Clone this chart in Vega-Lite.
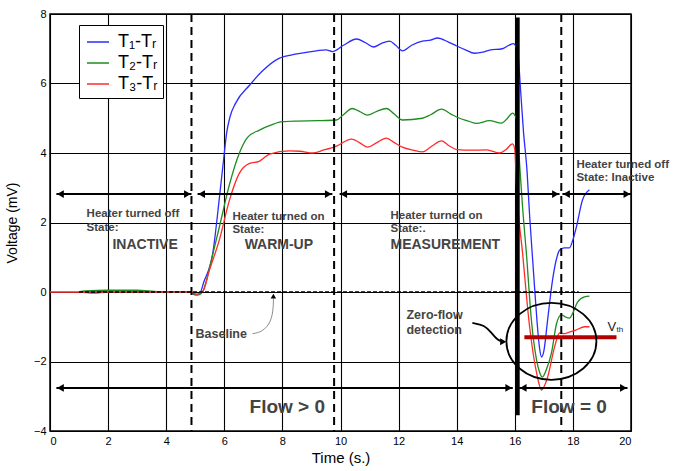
{
  "$schema": "https://vega.github.io/schema/vega-lite/v6.json",
  "width": 581,
  "height": 417,
  "autosize": {"type": "none"},
  "padding": {"left": 50, "top": 14, "right": 55, "bottom": 40},
  "config": {
    "font": "Liberation Sans",
    "view": {"stroke": "black", "strokeWidth": 1.5},
    "axis": {"grid": true, "gridColor": "black", "gridOpacity": 1, "gridWidth": 1.1, "ticks": false, "domain": false, "labelFontSize": 11, "labelColor": "black", "labelFont": "Liberation Sans", "titleFont": "Liberation Sans", "titleFontSize": 15, "titleFontWeight": "normal", "titleColor": "black"}
  },
  "datasets": {
    "curves": [
      {"s": "T₁-Tᵣ", "t": 1.0, "v": 0}, {"s": "T₁-Tᵣ", "t": 1.5, "v": 0.0}, {"s": "T₁-Tᵣ", "t": 2.0, "v": 0.03}, {"s": "T₁-Tᵣ", "t": 2.5, "v": 0.03}, {"s": "T₁-Tᵣ", "t": 3.0, "v": 0.02}, {"s": "T₁-Tᵣ", "t": 3.5, "v": 0}, {"s": "T₁-Tᵣ", "t": 4.0, "v": 0}, {"s": "T₁-Tᵣ", "t": 4.8, "v": 0}, {"s": "T₁-Tᵣ", "t": 5.0, "v": -0.08}, {"s": "T₁-Tᵣ", "t": 5.15, "v": -0.05}, {"s": "T₁-Tᵣ", "t": 5.3, "v": 0.3}, {"s": "T₁-Tᵣ", "t": 5.6, "v": 1.1}, {"s": "T₁-Tᵣ", "t": 5.83, "v": 2.7}, {"s": "T₁-Tᵣ", "t": 6.0, "v": 4.0}, {"s": "T₁-Tᵣ", "t": 6.08, "v": 4.57}, {"s": "T₁-Tᵣ", "t": 6.2, "v": 5.05}, {"s": "T₁-Tᵣ", "t": 6.4, "v": 5.45}, {"s": "T₁-Tᵣ", "t": 6.87, "v": 5.95}, {"s": "T₁-Tᵣ", "t": 7.3, "v": 6.35}, {"s": "T₁-Tᵣ", "t": 7.9, "v": 6.73}, {"s": "T₁-Tᵣ", "t": 8.5, "v": 6.85}, {"s": "T₁-Tᵣ", "t": 9.17, "v": 6.94}, {"s": "T₁-Tᵣ", "t": 9.5, "v": 6.97}, {"s": "T₁-Tᵣ", "t": 9.72, "v": 6.92}, {"s": "T₁-Tᵣ", "t": 10.1, "v": 7.1}, {"s": "T₁-Tᵣ", "t": 10.55, "v": 7.28}, {"s": "T₁-Tᵣ", "t": 10.85, "v": 7.18}, {"s": "T₁-Tᵣ", "t": 11.14, "v": 7.05}, {"s": "T₁-Tᵣ", "t": 11.4, "v": 7.15}, {"s": "T₁-Tᵣ", "t": 11.69, "v": 7.22}, {"s": "T₁-Tᵣ", "t": 11.9, "v": 7.1}, {"s": "T₁-Tᵣ", "t": 12.13, "v": 6.94}, {"s": "T₁-Tᵣ", "t": 12.45, "v": 7.1}, {"s": "T₁-Tᵣ", "t": 12.82, "v": 7.22}, {"s": "T₁-Tᵣ", "t": 13.1, "v": 7.25}, {"s": "T₁-Tᵣ", "t": 13.34, "v": 7.31}, {"s": "T₁-Tᵣ", "t": 13.7, "v": 7.2}, {"s": "T₁-Tᵣ", "t": 14.0, "v": 7.08}, {"s": "T₁-Tᵣ", "t": 14.3, "v": 6.97}, {"s": "T₁-Tᵣ", "t": 14.61, "v": 6.87}, {"s": "T₁-Tᵣ", "t": 14.9, "v": 6.9}, {"s": "T₁-Tᵣ", "t": 15.13, "v": 6.96}, {"s": "T₁-Tᵣ", "t": 15.57, "v": 7.0}, {"s": "T₁-Tᵣ", "t": 15.8, "v": 7.1}, {"s": "T₁-Tᵣ", "t": 15.95, "v": 7.15}, {"s": "T₁-Tᵣ", "t": 16.1, "v": 6.9}, {"s": "T₁-Tᵣ", "t": 16.2, "v": 5.8}, {"s": "T₁-Tᵣ", "t": 16.3, "v": 4.6}, {"s": "T₁-Tᵣ", "t": 16.42, "v": 3.5}, {"s": "T₁-Tᵣ", "t": 16.51, "v": 2.2}, {"s": "T₁-Tᵣ", "t": 16.6, "v": 1.1}, {"s": "T₁-Tᵣ", "t": 16.68, "v": 0.14}, {"s": "T₁-Tᵣ", "t": 16.77, "v": -0.9}, {"s": "T₁-Tᵣ", "t": 16.85, "v": -1.6}, {"s": "T₁-Tᵣ", "t": 16.92, "v": -1.87}, {"s": "T₁-Tᵣ", "t": 17.0, "v": -1.7}, {"s": "T₁-Tᵣ", "t": 17.13, "v": -0.8}, {"s": "T₁-Tᵣ", "t": 17.3, "v": 0.35}, {"s": "T₁-Tᵣ", "t": 17.45, "v": 1.0}, {"s": "T₁-Tᵣ", "t": 17.54, "v": 1.2}, {"s": "T₁-Tᵣ", "t": 17.7, "v": 1.27}, {"s": "T₁-Tᵣ", "t": 17.88, "v": 1.27}, {"s": "T₁-Tᵣ", "t": 18.0, "v": 1.5}, {"s": "T₁-Tᵣ", "t": 18.12, "v": 1.87}, {"s": "T₁-Tᵣ", "t": 18.33, "v": 2.65}, {"s": "T₁-Tᵣ", "t": 18.57, "v": 2.94},
      {"s": "T₂-Tᵣ", "t": 1.0, "v": 0}, {"s": "T₂-Tᵣ", "t": 1.2, "v": 0.03}, {"s": "T₂-Tᵣ", "t": 2.0, "v": 0.05}, {"s": "T₂-Tᵣ", "t": 3.0, "v": 0.05}, {"s": "T₂-Tᵣ", "t": 3.4, "v": 0.03}, {"s": "T₂-Tᵣ", "t": 4.0, "v": 0}, {"s": "T₂-Tᵣ", "t": 4.8, "v": 0}, {"s": "T₂-Tᵣ", "t": 5.08, "v": -0.09}, {"s": "T₂-Tᵣ", "t": 5.25, "v": 0.0}, {"s": "T₂-Tᵣ", "t": 5.39, "v": 0.35}, {"s": "T₂-Tᵣ", "t": 5.55, "v": 0.9}, {"s": "T₂-Tᵣ", "t": 5.83, "v": 1.87}, {"s": "T₂-Tᵣ", "t": 6.18, "v": 3.1}, {"s": "T₂-Tᵣ", "t": 6.52, "v": 4.0}, {"s": "T₂-Tᵣ", "t": 6.8, "v": 4.45}, {"s": "T₂-Tᵣ", "t": 7.21, "v": 4.66}, {"s": "T₂-Tᵣ", "t": 7.6, "v": 4.8}, {"s": "T₂-Tᵣ", "t": 8.0, "v": 4.9}, {"s": "T₂-Tᵣ", "t": 8.5, "v": 4.92}, {"s": "T₂-Tᵣ", "t": 9.2, "v": 4.93}, {"s": "T₂-Tᵣ", "t": 9.86, "v": 4.95}, {"s": "T₂-Tᵣ", "t": 10.1, "v": 5.1}, {"s": "T₂-Tᵣ", "t": 10.4, "v": 5.28}, {"s": "T₂-Tᵣ", "t": 10.65, "v": 5.2}, {"s": "T₂-Tᵣ", "t": 10.93, "v": 5.09}, {"s": "T₂-Tᵣ", "t": 11.25, "v": 5.2}, {"s": "T₂-Tᵣ", "t": 11.58, "v": 5.28}, {"s": "T₂-Tᵣ", "t": 11.85, "v": 5.12}, {"s": "T₂-Tᵣ", "t": 12.13, "v": 4.95}, {"s": "T₂-Tᵣ", "t": 12.82, "v": 5.0}, {"s": "T₂-Tᵣ", "t": 13.1, "v": 5.1}, {"s": "T₂-Tᵣ", "t": 13.48, "v": 5.26}, {"s": "T₂-Tᵣ", "t": 13.8, "v": 5.12}, {"s": "T₂-Tᵣ", "t": 14.1, "v": 5.0}, {"s": "T₂-Tᵣ", "t": 14.4, "v": 4.92}, {"s": "T₂-Tᵣ", "t": 14.68, "v": 4.85}, {"s": "T₂-Tᵣ", "t": 15.13, "v": 4.93}, {"s": "T₂-Tᵣ", "t": 15.54, "v": 4.86}, {"s": "T₂-Tᵣ", "t": 15.75, "v": 5.0}, {"s": "T₂-Tᵣ", "t": 15.92, "v": 5.15}, {"s": "T₂-Tᵣ", "t": 16.05, "v": 5.0}, {"s": "T₂-Tᵣ", "t": 16.18, "v": 3.5}, {"s": "T₂-Tᵣ", "t": 16.28, "v": 2.3}, {"s": "T₂-Tᵣ", "t": 16.4, "v": 1.1}, {"s": "T₂-Tᵣ", "t": 16.57, "v": -0.8}, {"s": "T₂-Tᵣ", "t": 16.75, "v": -1.96}, {"s": "T₂-Tᵣ", "t": 16.85, "v": -2.3}, {"s": "T₂-Tᵣ", "t": 16.95, "v": -2.45}, {"s": "T₂-Tᵣ", "t": 17.1, "v": -2.2}, {"s": "T₂-Tᵣ", "t": 17.26, "v": -1.76}, {"s": "T₂-Tᵣ", "t": 17.44, "v": -0.9}, {"s": "T₂-Tᵣ", "t": 17.6, "v": -0.66}, {"s": "T₂-Tᵣ", "t": 17.75, "v": -0.72}, {"s": "T₂-Tᵣ", "t": 17.88, "v": -0.75}, {"s": "T₂-Tᵣ", "t": 18.0, "v": -0.6}, {"s": "T₂-Tᵣ", "t": 18.16, "v": -0.29}, {"s": "T₂-Tᵣ", "t": 18.4, "v": -0.14}, {"s": "T₂-Tᵣ", "t": 18.57, "v": -0.12},
      {"s": "T₃-Tᵣ", "t": 0.0, "v": 0}, {"s": "T₃-Tᵣ", "t": 1.0, "v": 0}, {"s": "T₃-Tᵣ", "t": 1.5, "v": -0.03}, {"s": "T₃-Tᵣ", "t": 2.0, "v": 0.0}, {"s": "T₃-Tᵣ", "t": 3.0, "v": 0.0}, {"s": "T₃-Tᵣ", "t": 4.0, "v": 0}, {"s": "T₃-Tᵣ", "t": 4.8, "v": 0}, {"s": "T₃-Tᵣ", "t": 5.05, "v": -0.06}, {"s": "T₃-Tᵣ", "t": 5.25, "v": 0.0}, {"s": "T₃-Tᵣ", "t": 5.49, "v": 0.63}, {"s": "T₃-Tᵣ", "t": 5.83, "v": 1.5}, {"s": "T₃-Tᵣ", "t": 6.18, "v": 2.65}, {"s": "T₃-Tᵣ", "t": 6.52, "v": 3.42}, {"s": "T₃-Tᵣ", "t": 6.87, "v": 3.7}, {"s": "T₃-Tᵣ", "t": 7.2, "v": 3.76}, {"s": "T₃-Tᵣ", "t": 7.56, "v": 3.97}, {"s": "T₃-Tᵣ", "t": 8.24, "v": 4.06}, {"s": "T₃-Tᵣ", "t": 8.6, "v": 4.05}, {"s": "T₃-Tᵣ", "t": 9.04, "v": 4.0}, {"s": "T₃-Tᵣ", "t": 9.4, "v": 4.08}, {"s": "T₃-Tᵣ", "t": 9.86, "v": 4.2}, {"s": "T₃-Tᵣ", "t": 10.38, "v": 4.4}, {"s": "T₃-Tᵣ", "t": 10.65, "v": 4.3}, {"s": "T₃-Tᵣ", "t": 10.93, "v": 4.17}, {"s": "T₃-Tᵣ", "t": 11.25, "v": 4.3}, {"s": "T₃-Tᵣ", "t": 11.58, "v": 4.43}, {"s": "T₃-Tᵣ", "t": 11.85, "v": 4.3}, {"s": "T₃-Tᵣ", "t": 12.13, "v": 4.17}, {"s": "T₃-Tᵣ", "t": 12.5, "v": 4.08}, {"s": "T₃-Tᵣ", "t": 12.82, "v": 4.03}, {"s": "T₃-Tᵣ", "t": 13.15, "v": 4.2}, {"s": "T₃-Tᵣ", "t": 13.48, "v": 4.35}, {"s": "T₃-Tᵣ", "t": 13.75, "v": 4.2}, {"s": "T₃-Tᵣ", "t": 14.0, "v": 4.1}, {"s": "T₃-Tᵣ", "t": 14.5, "v": 4.08}, {"s": "T₃-Tᵣ", "t": 15.03, "v": 4.09}, {"s": "T₃-Tᵣ", "t": 15.47, "v": 4.0}, {"s": "T₃-Tᵣ", "t": 15.7, "v": 4.1}, {"s": "T₃-Tᵣ", "t": 15.92, "v": 4.26}, {"s": "T₃-Tᵣ", "t": 16.0, "v": 4.1}, {"s": "T₃-Tᵣ", "t": 16.06, "v": 3.02}, {"s": "T₃-Tᵣ", "t": 16.27, "v": 1.1}, {"s": "T₃-Tᵣ", "t": 16.51, "v": -1.0}, {"s": "T₃-Tᵣ", "t": 16.75, "v": -2.33}, {"s": "T₃-Tᵣ", "t": 16.92, "v": -2.82}, {"s": "T₃-Tᵣ", "t": 17.13, "v": -2.45}, {"s": "T₃-Tᵣ", "t": 17.37, "v": -1.58}, {"s": "T₃-Tᵣ", "t": 17.54, "v": -1.18}, {"s": "T₃-Tᵣ", "t": 17.7, "v": -1.2}, {"s": "T₃-Tᵣ", "t": 17.9, "v": -1.15}, {"s": "T₃-Tᵣ", "t": 18.12, "v": -1.09}, {"s": "T₃-Tᵣ", "t": 18.4, "v": -1.0}, {"s": "T₃-Tᵣ", "t": 18.57, "v": -1.0}
    ],
    "shafts": [
      {"t": 0.22, "t2": 4.87, "v": 2.82}, {"t": 5.08, "t2": 9.72, "v": 2.82}, {"t": 9.97, "t2": 17.54, "v": 2.82}, {"t": 17.64, "t2": 20.0, "v": 2.82},
      {"t": 0.22, "t2": 15.93, "v": -2.76}, {"t": 16.15, "t2": 19.88, "v": -2.76}
    ],
    "heads": [
      {"t": 0.36, "v": 2.82, "dir": "left"}, {"t": 5.22, "v": 2.82, "dir": "left"}, {"t": 10.11, "v": 2.82, "dir": "left"}, {"t": 17.78, "v": 2.82, "dir": "left"},
      {"t": 4.73, "v": 2.82, "dir": "right"}, {"t": 9.58, "v": 2.82, "dir": "right"}, {"t": 17.4, "v": 2.82, "dir": "right"}, {"t": 19.86, "v": 2.82, "dir": "right"},
      {"t": 0.36, "v": -2.76, "dir": "left"}, {"t": 16.29, "v": -2.76, "dir": "left"},
      {"t": 15.79, "v": -2.76, "dir": "right"}, {"t": 19.74, "v": -2.76, "dir": "right"}
    ],
    "small": [
      {"t": 1.26, "v": 2.24, "label": "Heater turned off"}, {"t": 1.26, "v": 1.84, "label": "State:"},
      {"t": 6.28, "v": 2.16, "label": "Heater turned on"}, {"t": 6.28, "v": 1.78, "label": "State:"},
      {"t": 11.72, "v": 2.19, "label": "Heater turned on"}, {"t": 11.72, "v": 1.81, "label": "State:."},
      {"t": 18.12, "v": 3.65, "label": "Heater turned off"}, {"t": 18.12, "v": 3.28, "label": "State: Inactive"}
    ],
    "states": [
      {"t": 2.15, "v": 1.35, "label": "INACTIVE"}, {"t": 6.7, "v": 1.35, "label": "WARM-UP"}, {"t": 11.72, "v": 1.35, "label": "MEASUREMENT"}
    ],
    "flows": [
      {"t": 6.87, "v": -3.31, "label": "Flow > 0"}, {"t": 16.57, "v": -3.31, "label": "Flow = 0"}
    ],
    "notes": [
      {"t": 5.01, "v": -1.21, "label": "Baseline"}, {"t": 12.27, "v": -0.66, "label": "Zero-flow"}, {"t": 12.27, "v": -1.09, "label": "detection"}
    ],
    "baselineArrow": [
      {"o": 1, "t": 6.97, "v": -1.2}, {"o": 2, "t": 7.31, "v": -1.15}, {"o": 3, "t": 7.62, "v": -0.86}, {"o": 4, "t": 7.69, "v": -0.43}, {"o": 5, "t": 7.69, "v": -0.18}
    ],
    "zeroArrow": [
      {"o": 1, "t": 14.54, "v": -0.89}, {"o": 2, "t": 14.96, "v": -0.95}, {"o": 3, "t": 15.2, "v": -1.18}, {"o": 4, "t": 15.37, "v": -1.35}, {"o": 5, "t": 15.5, "v": -1.41}
    ]
  },
  "layer": [
    {
      "data": {"name": "curves"},
      "mark": {"type": "line", "strokeWidth": 1.3, "interpolate": "monotone"},
      "encoding": {
        "x": {"field": "t", "type": "quantitative", "scale": {"domain": [0, 20], "nice": false, "zero": false}, "axis": {"values": [0, 2, 4, 6, 8, 10, 12, 14, 16, 18, 20], "title": "Time (s.)", "labelPadding": 4, "titlePadding": 4}},
        "y": {"field": "v", "type": "quantitative", "scale": {"domain": [-4, 8], "nice": false, "zero": false}, "axis": {"values": [-4, -2, 0, 2, 4, 6, 8], "title": "Voltage (mV)", "labelPadding": 4, "titlePadding": 14, "titleFontSize": 14}},
        "color": {"field": "s", "type": "nominal", "scale": {"domain": ["T₁-Tᵣ", "T₂-Tᵣ", "T₃-Tᵣ"], "range": ["#2b2bff", "#1e8c1e", "#ff2b2b"]},
          "legend": {"orient": "none", "legendX": 29, "legendY": 11, "title": null, "symbolType": "stroke", "symbolSize": 484, "symbolStrokeWidth": 1.5, "labelFontSize": 18, "labelFont": "Liberation Sans", "labelColor": "black", "strokeColor": "black", "fillColor": "white", "padding": 5, "rowPadding": 0, "labelOffset": 8, "symbolOffset": 2}}
      }
    },
    {
      "data": {"values": [{"t": 4.87}, {"t": 9.78}, {"t": 17.6}]},
      "mark": {"type": "rule", "color": "black", "strokeWidth": 2, "strokeDash": [8, 5]},
      "encoding": {"x": {"field": "t", "type": "quantitative"}}
    },
    {
      "data": {"values": [{"t": 1.0, "t2": 18.2, "v": 0}]},
      "mark": {"type": "rule", "color": "black", "strokeWidth": 1.5, "strokeDash": [4, 2]},
      "encoding": {"x": {"field": "t", "type": "quantitative"}, "x2": {"field": "t2"}, "y": {"field": "v", "type": "quantitative"}}
    },
    {
      "data": {"values": [{"t": 16.1, "v": 7.9, "v2": -3.55}]},
      "mark": {"type": "rule", "color": "black", "strokeWidth": 4},
      "encoding": {"x": {"field": "t", "type": "quantitative"}, "y": {"field": "v", "type": "quantitative"}, "y2": {"field": "v2"}}
    },
    {
      "data": {"name": "shafts"},
      "mark": {"type": "rule", "color": "black", "strokeWidth": 2},
      "encoding": {"x": {"field": "t", "type": "quantitative"}, "x2": {"field": "t2"}, "y": {"field": "v", "type": "quantitative"}}
    },
    {
      "data": {"name": "heads"},
      "mark": {"type": "point", "filled": true, "color": "black", "opacity": 1, "size": 60},
      "encoding": {"x": {"field": "t", "type": "quantitative"}, "y": {"field": "v", "type": "quantitative"},
        "shape": {"field": "dir", "type": "nominal", "scale": {"domain": ["left", "right"], "range": ["triangle-left", "triangle-right"]}, "legend": null}}
    },
    {
      "data": {"values": [{"t": 16.33, "t2": 19.5, "v": -1.3}]},
      "mark": {"type": "rule", "color": "#b30000", "strokeWidth": 4},
      "encoding": {"x": {"field": "t", "type": "quantitative"}, "x2": {"field": "t2"}, "y": {"field": "v", "type": "quantitative"}}
    },
    {
      "data": {"values": [{"t": 17.26, "v": -1.42}]},
      "mark": {"type": "point", "shape": "M-1,0A1,0.855,0,1,1,1,0A1,0.855,0,1,1,-1,0Z", "size": 8100, "filled": false, "stroke": "black", "strokeWidth": 1.8, "opacity": 1},
      "encoding": {"x": {"field": "t", "type": "quantitative"}, "y": {"field": "v", "type": "quantitative"}}
    },
    {
      "data": {"name": "baselineArrow"},
      "mark": {"type": "line", "color": "#8c8c8c", "strokeWidth": 1, "interpolate": "basis"},
      "encoding": {"x": {"field": "t", "type": "quantitative"}, "y": {"field": "v", "type": "quantitative"}, "order": {"field": "o"}}
    },
    {
      "data": {"values": [{"t": 7.69, "v": -0.12}]},
      "mark": {"type": "point", "shape": "triangle-up", "filled": true, "color": "black", "size": 30, "opacity": 1},
      "encoding": {"x": {"field": "t", "type": "quantitative"}, "y": {"field": "v", "type": "quantitative"}}
    },
    {
      "data": {"name": "zeroArrow"},
      "mark": {"type": "line", "color": "black", "strokeWidth": 1.8, "interpolate": "basis"},
      "encoding": {"x": {"field": "t", "type": "quantitative"}, "y": {"field": "v", "type": "quantitative"}, "order": {"field": "o"}}
    },
    {
      "data": {"values": [{"t": 15.6, "v": -1.43}]},
      "mark": {"type": "point", "shape": "triangle-right", "filled": true, "color": "black", "size": 50, "opacity": 1},
      "encoding": {"x": {"field": "t", "type": "quantitative"}, "y": {"field": "v", "type": "quantitative"}}
    },
    {
      "data": {"name": "small"},
      "mark": {"type": "text", "align": "left", "baseline": "middle", "fontSize": 11.5, "fontWeight": "bold", "color": "#444444"},
      "encoding": {"x": {"field": "t", "type": "quantitative"}, "y": {"field": "v", "type": "quantitative"}, "text": {"field": "label"}}
    },
    {
      "data": {"name": "states"},
      "mark": {"type": "text", "align": "left", "baseline": "middle", "fontSize": 14, "fontWeight": "bold", "color": "#444444"},
      "encoding": {"x": {"field": "t", "type": "quantitative"}, "y": {"field": "v", "type": "quantitative"}, "text": {"field": "label"}}
    },
    {
      "data": {"name": "flows"},
      "mark": {"type": "text", "align": "left", "baseline": "middle", "fontSize": 19, "fontWeight": "bold", "color": "#444444"},
      "encoding": {"x": {"field": "t", "type": "quantitative"}, "y": {"field": "v", "type": "quantitative"}, "text": {"field": "label"}}
    },
    {
      "data": {"name": "notes"},
      "mark": {"type": "text", "align": "left", "baseline": "middle", "fontSize": 12.5, "fontWeight": "bold", "color": "#444444"},
      "encoding": {"x": {"field": "t", "type": "quantitative"}, "y": {"field": "v", "type": "quantitative"}, "text": {"field": "label"}}
    },
    {
      "data": {"values": [{"t": 19.19, "v": -1.01, "label": "V"}]},
      "mark": {"type": "text", "align": "left", "baseline": "middle", "fontSize": 13, "color": "#222222"},
      "encoding": {"x": {"field": "t", "type": "quantitative"}, "y": {"field": "v", "type": "quantitative"}, "text": {"field": "label"}}
    },
    {
      "data": {"values": [{"t": 19.5, "v": -1.09, "label": "th"}]},
      "mark": {"type": "text", "align": "left", "baseline": "middle", "fontSize": 8, "color": "#222222"},
      "encoding": {"x": {"field": "t", "type": "quantitative"}, "y": {"field": "v", "type": "quantitative"}, "text": {"field": "label"}}
    }
  ]
}
